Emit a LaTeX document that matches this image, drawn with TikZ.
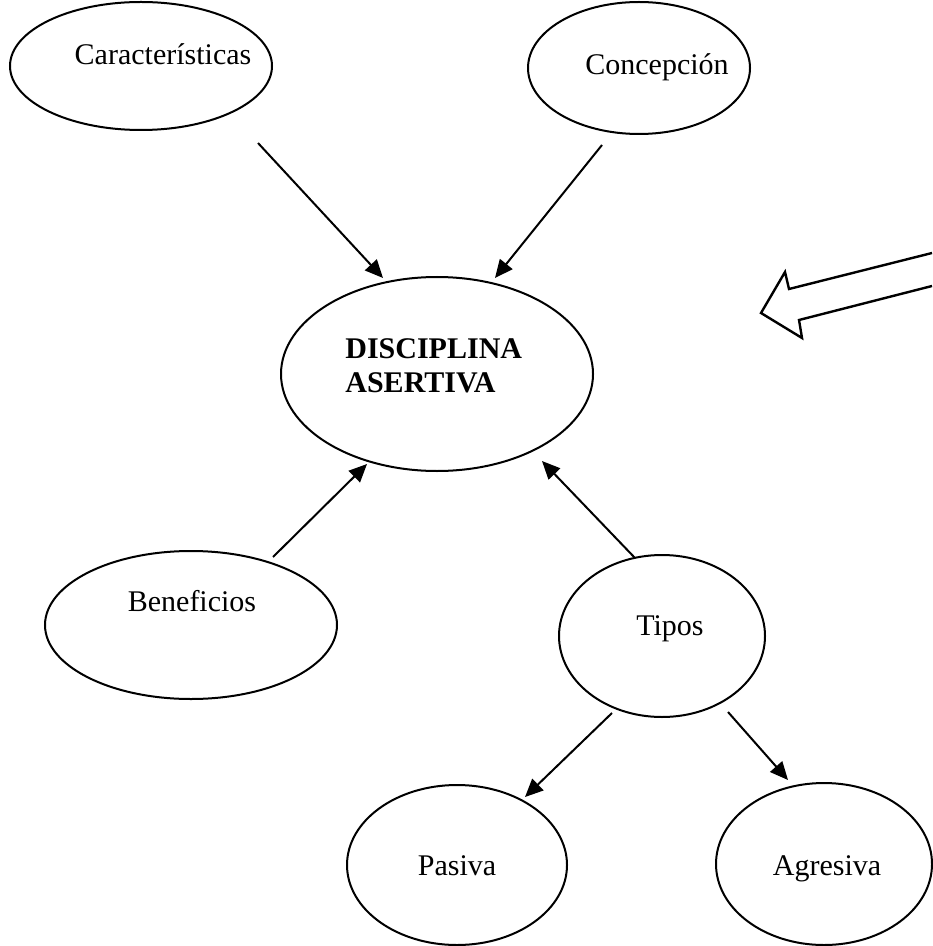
\documentclass[tikz,border=0pt]{standalone}
\usepackage{fontspec}
\setmainfont{Liberation Serif}
\usetikzlibrary{shapes.geometric,arrows.meta}
\begin{document}
\begin{tikzpicture}[x=0.5pt, y=-0.5pt,
        concept/.style={ellipse, draw, line width=1pt, inner sep=0pt},
        concept_text/.style={font=\fontsize{15}{17}\selectfont, inner sep=0pt, anchor=base},
        link/.style={-{Triangle[length=9pt,width=8pt]}, line width=1pt},
        hollow_arrow/.style={line width=1.2pt, line join=miter}
    ]
        \useasboundingbox (0,0) rectangle (932,946);

        % Ellipses
        \node[concept, minimum width=131pt, minimum height=64pt] (carac) at (141,66) {};
        \node[concept, minimum width=111pt, minimum height=66pt] (concep) at (639,68) {};
        \node[concept, minimum width=156pt, minimum height=97pt] (disc) at (437,374) {};
        \node[concept, minimum width=146pt, minimum height=74pt] (benef) at (191,625) {};
        \node[concept, minimum width=103pt, minimum height=81pt] (tipos) at (662,636) {};
        \node[concept, minimum width=110pt, minimum height=80pt] (pasiva) at (457,865) {};
        \node[concept, minimum width=108pt, minimum height=81pt] (agres) at (824,864) {};

        % Texts
        \node[concept_text] (carac_text) at (163,65) {Características};
        \node[concept_text] (concep_text) at (657,75) {Concepción};
        \node[concept_text, anchor=west, align=left, font=\fontsize{15}{17}\selectfont\bfseries] (disc_text) at (345,366) {DISCIPLINA\\ASERTIVA};
        \node[concept_text] (benef_text) at (192,611) {Beneficios};
        \node[concept_text] (tipos_text) at (670,635) {Tipos};
        \node[concept_text] (pasiva_text) at (457,875) {Pasiva};
        \node[concept_text] (agres_text) at (827,875) {Agresiva};

        % Arrow ends
        \coordinate (carac_out) at (258,143);
        \coordinate (concep_out) at (602,145);
        \coordinate (benef_out) at (273,557);
        \coordinate (tipos_up) at (635,558);
        \coordinate (tipos_left) at (612,713);
        \coordinate (tipos_right) at (728,712);
        \coordinate (disc_in_a) at (383,278);
        \coordinate (disc_in_b) at (495,278);
        \coordinate (disc_in_c) at (367,464);
        \coordinate (disc_in_d) at (542,461);
        \coordinate (pasiva_in) at (525,797);
        \coordinate (agres_in) at (788,780);

        % Connectors
        \draw[link] (carac_out) -- (disc_in_a);
        \draw[link] (concep_out) -- (disc_in_b);
        \draw[link] (benef_out) -- (disc_in_c);
        \draw[link] (tipos_up) -- (disc_in_d);
        \draw[link] (tipos_left) -- (pasiva_in);
        \draw[link] (tipos_right) -- (agres_in);

        % Block arrow at the right edge
        \draw[hollow_arrow] (932,253) -- (789,289) -- (785,272) -- (761,313)
            -- (802,338) -- (799,320) -- (932,286);

    \end{tikzpicture}
\end{document}
